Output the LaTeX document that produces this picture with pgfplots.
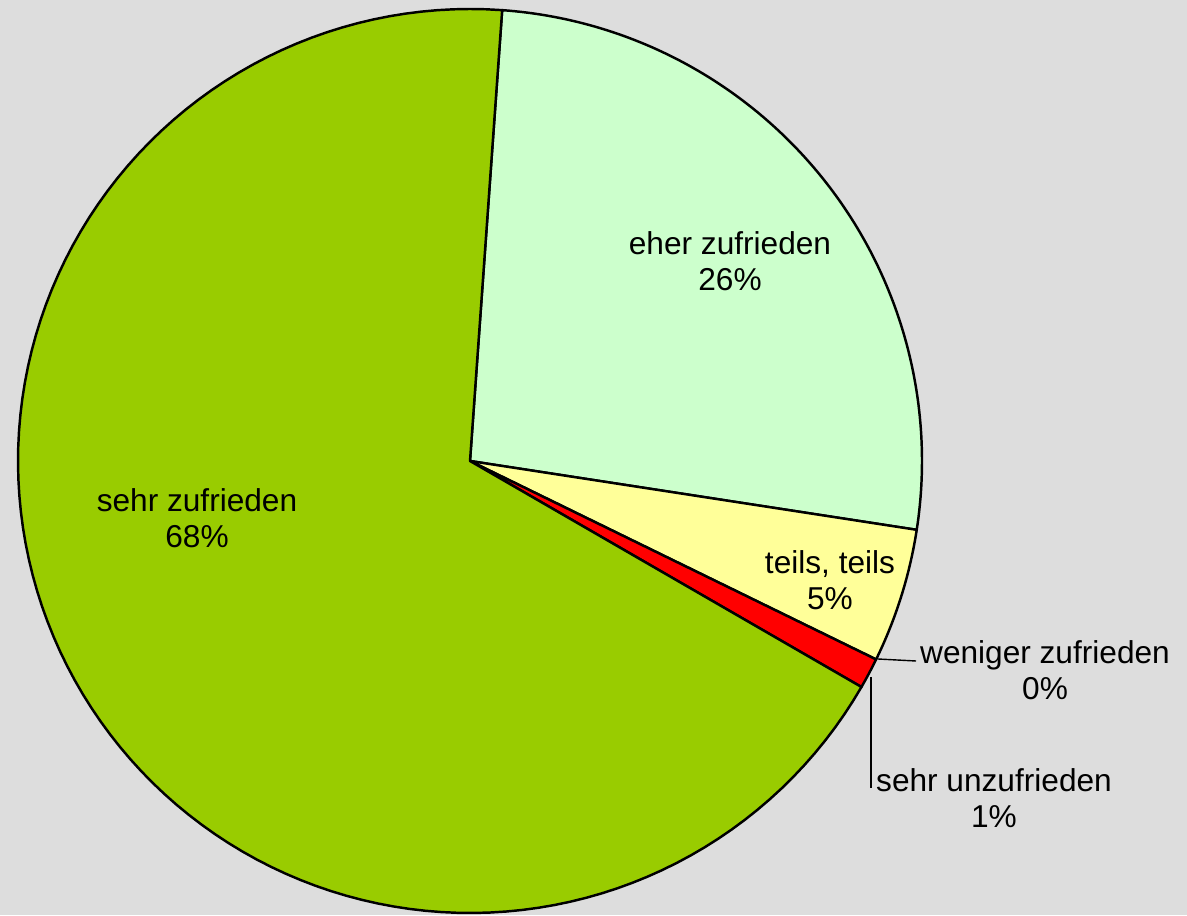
\documentclass[border=0pt]{standalone}
\usepackage{pgfplots}
\pgfplotsset{compat=1.18}
\usepackage{pgfplotstable}
\usepackage{fontspec}
\setmainfont{Liberation Sans}

\definecolor{bgc}{HTML}{DDDDDD}
\definecolor{cSehr}{HTML}{99CC00}
\definecolor{cEher}{HTML}{CCFFCC}
\definecolor{cTeils}{HTML}{FFFF99}
\definecolor{cWeniger}{HTML}{3366FF}
\definecolor{cUnz}{HTML}{FF0000}
\newcommand\lab{\fontsize{9}{10.25}\selectfont}

% share in percent, clockwise from the first slice
\pgfplotstableread{
value col
26.3 cEher
4.8 cTeils
0 cWeniger
1.1 cUnz
67.8 cSehr
}\piedata

\begin{document}
\begin{tikzpicture}
\begin{axis}[
  scale only axis, width=11.87cm, height=9.15cm,
  xmin=0, xmax=1187, ymin=0, ymax=915,
  axis lines=none, ticks=none,
  axis background/.style={fill=bgc},
  clip=false,
]
\def\curang{85.92}
\pgfplotsforeachungrouped \i in {0,...,4}{%
  \pgfplotstablegetelem{\i}{value}\of\piedata \let\val\pgfplotsretval
  \pgfplotstablegetelem{\i}{col}\of\piedata \let\col\pgfplotsretval
  \pgfmathsetmacro\endang{\curang-3.6*\val}
  \ifdim\val pt>0pt
    \edef\temp{\noexpand\addplot[fill=\col, draw=black, line width=0.7pt, line join=round,
      domain=\endang:\curang, samples=120]
      ({470+452*cos(x)},{454+452*sin(x)}) -- (470,454) -- cycle;}
    \temp
  \fi
  \let\curang\endang
}
% leader lines
\addplot[black, line width=0.4pt] coordinates {(878,256) (916,254)};
\addplot[black, line width=0.4pt] coordinates {(871,238) (871,127)};

\node[align=center, font=\lab] at (730,654) {eher zufrieden\\26\%};
\node[align=center, font=\lab] at (197,397) {sehr zufrieden\\68\%};
\node[align=center, font=\lab] at (830,335) {teils, teils\\5\%};
\node[align=center, font=\lab] at (1045,245) {weniger zufrieden\\0\%};
\node[align=center, font=\lab] at (994,117) {sehr unzufrieden\\1\%};
\end{axis}
\end{tikzpicture}
\end{document}
